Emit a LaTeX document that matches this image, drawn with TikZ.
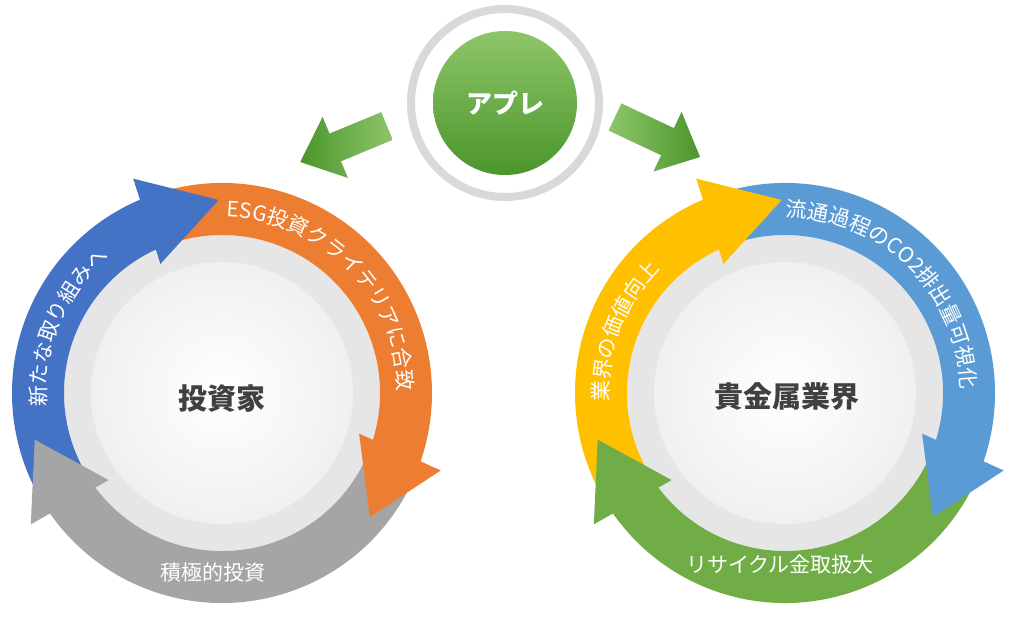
\documentclass[tikz,border=0pt]{standalone}
\usepackage{fontspec}
\setmainfont{Noto Sans CJK JP}
\usetikzlibrary{decorations.text}

\definecolor{invblue}{HTML}{4472C4}
\definecolor{invorange}{HTML}{ED7D31}
\definecolor{invgray}{HTML}{A5A5A5}
\definecolor{indyellow}{HTML}{FFC000}
\definecolor{indblue}{HTML}{5B9BD5}
\definecolor{indgreen}{HTML}{70AD47}
\definecolor{ringgray}{HTML}{E6E6E6}
\definecolor{apredark}{HTML}{4B952B}
\definecolor{aprelight}{HTML}{8DC66A}
\definecolor{labeldark}{HTML}{404040}

% radii of the cycle bands (in pt)
\newcommand{\bandin}{158}
\newcommand{\bandout}{210}
\newcommand{\headin}{143}
\newcommand{\headout}{232}
\newcommand{\tipr}{193}
\newcommand{\arctext}{\color{white}\fontsize{21}{24}\selectfont}

% band of one cycle arrow: colour, tail angle, head base angle
\newcommand{\arcband}[3]{%
  \fill[#1] (#2:\bandout) arc[start angle=#2, end angle=#3-1, radius=\bandout]
    -- (#3-1:\bandin) arc[start angle=#3-1, end angle=#2, radius=\bandin] -- cycle;}
% head of one cycle arrow: colour, base angle, tip angle
\newcommand{\archead}[3]{%
  \fill[#1] (#2+1.5:\headin) -- (#3:\tipr) -- (#2-1.5:\headout) -- cycle;}
% text along the band: from, to, radius, text
\newcommand{\arclabel}[4]{%
  \path[decorate, decoration={text along path, text align=center, text={|\arctext|#4}}]
    (#1:#3) arc[start angle=#1, end angle=#2, radius=#3];}

\begin{document}
\begin{tikzpicture}[
    x=1pt, y=1pt,
    hub/.style={circle, inner sep=0pt, text=labeldark, font=\fontsize{29}{32}\selectfont\bfseries},
    flat/.style={inner sep=0pt, text=white, font=\fontsize{21}{24}\selectfont}
]
\useasboundingbox (0,0) rectangle (1014,622);
\fill[white] (0,0) rectangle (1014,622);

% Investor cycle
\begin{scope}[shift={(222,229)}]
  \fill[ringgray] (0,0) circle[radius=\bandin];
  \shade[inner color=white, outer color=black!6] (0,0) circle[radius=131];
  \arcband{invblue}{215}{114}
  \arcband{invorange}{105}{-18}
  \arcband{invgray}{-25}{-144}
  \archead{invblue}{114}{91}
  \archead{invorange}{-18}{-40}
  \archead{invgray}{-144}{-166}
  \arclabel{200}{114}{176}{新たな取り組みへ}
  \arclabel{97}{-8}{176}{ESG投資クライテリアに合致}
  \node[hub] (investor) at (0,-6) {投資家};
  \node[flat] (investlabel) at (-9,-180) {積極的投資};
\end{scope}

% Precious metals industry cycle
\begin{scope}[shift={(785,229)}]
  \fill[ringgray] (0,0) circle[radius=\bandin];
  \shade[inner color=white, outer color=black!6] (0,0) circle[radius=131];
  \arcband{indyellow}{215}{114}
  \arcband{indblue}{105}{-18}
  \arcband{indgreen}{-25}{-144}
  \archead{indyellow}{114}{91}
  \archead{indblue}{-18}{-40}
  \archead{indgreen}{-144}{-166}
  \arclabel{198}{120}{176}{業界の価値向上}
  \arclabel{97}{-6}{176}{流通過程のCO2排出量可視化}
  \node[hub] (industry) at (2,-4) {貴金属業界};
  \node[flat] (recyclelabel) at (-5,-172) {リサイクル金取扱大};
\end{scope}

% Apre in the middle
\node[circle, draw=black!15, line width=8pt, fill=white, minimum size=188pt] (ring) at (505,519) {};
\node[circle, minimum size=144pt, inner sep=0pt, top color=aprelight, bottom color=apredark,
  text=white, font=\fontsize{26}{28}\selectfont\bfseries] (apre) at (505,519) {アプレ};

% arrows from apre to both cycles
\coordinate (leftfrom) at (387,496);
\coordinate (rightfrom) at (615,505);
\begin{scope}[shift={(leftfrom)}, rotate=202.5]
  \shade[left color=apredark, right color=aprelight]
    (0,-15) -- (56,-15) -- (56,-33) -- (94,0) -- (56,33) -- (56,15) -- (0,15) -- cycle;
\end{scope}
\begin{scope}[shift={(rightfrom)}, rotate=-25.2]
  \shade[left color=aprelight, right color=apredark]
    (0,-15) -- (58,-15) -- (58,-33) -- (94,0) -- (58,33) -- (58,15) -- (0,15) -- cycle;
\end{scope}

\end{tikzpicture}
\end{document}
